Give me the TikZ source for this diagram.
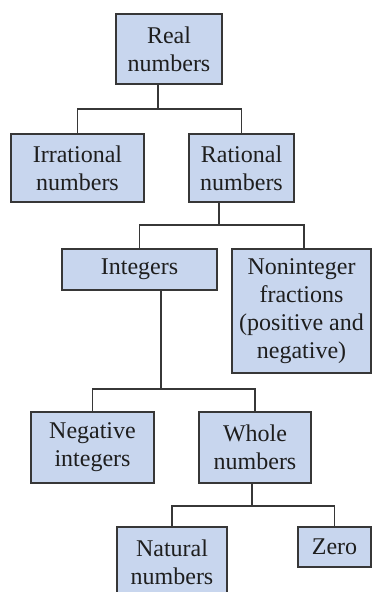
\documentclass[tikz,border=0pt]{standalone}
\usepackage{fontspec}
\setmainfont{Liberation Serif}
\definecolor{boxfill}{RGB}{200,214,238}
\definecolor{boxline}{RGB}{55,55,55}
\definecolor{txt}{RGB}{30,30,30}
\begin{document}
\begin{tikzpicture}[x=1pt,y=1pt,
  box/.style={draw=boxline,fill=boxfill,line width=1.1pt,inner sep=0pt,
    align=center,text=txt,font=\fontsize{24}{28}\selectfont},
  link/.style={draw=boxline,line width=1.1pt}]
\useasboundingbox (0,0) rectangle (372,592);
\clip (0,0) rectangle (372,592);
\node[box,minimum width=106pt,minimum height=70pt] (real) at (169,543) {Real\\numbers};
\node[box,minimum width=133pt,minimum height=68pt] (irr) at (77.5,424) {Irrational\\numbers};
\node[box,minimum width=105pt,minimum height=68pt] (rat) at (241.5,424) {Rational\\numbers};
\node[box,minimum width=155pt,minimum height=41pt] (int) at (139.5,322.5) {Integers};
\node[box,minimum width=139pt,minimum height=124pt] (nonint) at (301.5,281) {Noninteger\\fractions\\(positive and\\negative)};
\node[box,minimum width=123pt,minimum height=71pt] (neg) at (92.5,144.5) {Negative\\integers};
\node[box,minimum width=112pt,minimum height=71pt] (whole) at (255,144.5) {Whole\\numbers};
\node[box,minimum width=110pt,minimum height=70pt] (nat) at (172,30) {Natural\\numbers};
\node[box,minimum width=73pt,minimum height=40pt] (zero) at (334.5,45) {Zero};
\coordinate (b1) at (158,483);
\coordinate (b2) at (219,367);
\coordinate (b3) at (161,203);
\coordinate (b4) at (252,86);
\draw[link] (b1 |- real.south) -- (b1);
\draw[link] (irr.north) |- (b1) -| (rat.north);
\draw[link] (b2 |- rat.south) -- (b2);
\draw[link] (int.north) |- (b2) -| (nonint.north -| 304,0);
\draw[link] (b3 |- int.south) -- (b3);
\draw[link] (neg.north) |- (b3) -| (whole.north);
\draw[link] (b4 |- whole.south) -- (b4);
\draw[link] (nat.north) |- (b4) -| (zero.north);
\end{tikzpicture}
\end{document}
